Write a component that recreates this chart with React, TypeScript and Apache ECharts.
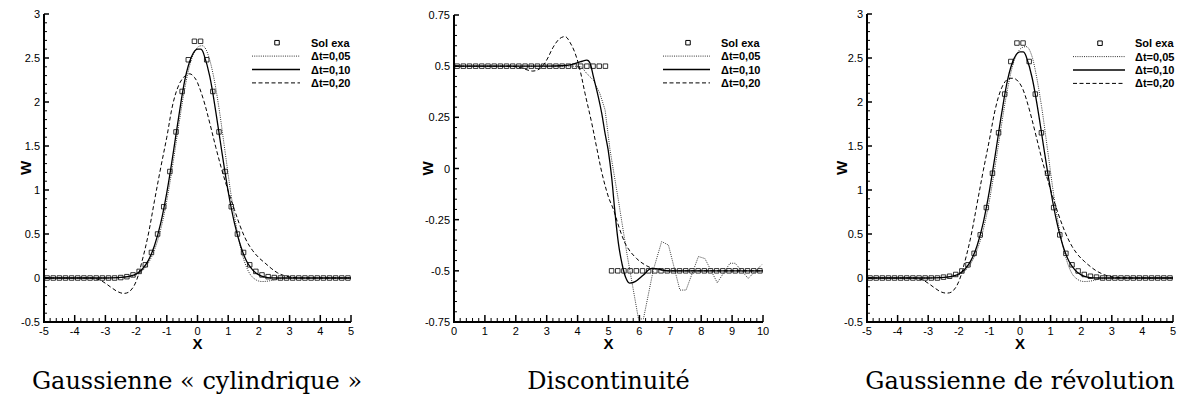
import React, { useEffect, useRef } from "react";
import * as echarts from "echarts";

// ---------- DATA ----------
const legendNames = ["Sol exa", "Δt=0,05", "Δt=0,10", "Δt=0,20"];
const captions = ["Gaussienne « cylindrique »", "Discontinuité", "Gaussienne de révolution"];

const gaussX = [-4.9, -4.7, -4.5, -4.3, -4.1, -3.9, -3.7, -3.5, -3.3, -3.1, -2.9, -2.7, -2.5, -2.3, -2.1, -1.9, -1.7, -1.5, -1.3, -1.1, -0.9, -0.7, -0.5, -0.3, -0.1,
  0.1, 0.3, 0.5, 0.7, 0.9, 1.1, 1.3, 1.5, 1.7, 1.9, 2.1, 2.3, 2.5, 2.7, 2.9, 3.1, 3.3, 3.5, 3.7, 3.9, 4.1, 4.3, 4.5, 4.7, 4.9];
const discX = [0.1, 0.3, 0.5, 0.7, 0.9, 1.1, 1.3, 1.5, 1.7, 1.9, 2.1, 2.3, 2.5, 2.7, 2.9, 3.1, 3.3, 3.5, 3.7, 3.9, 4.1, 4.3, 4.5, 4.7, 4.9,
  5.1, 5.3, 5.5, 5.7, 5.9, 6.1, 6.3, 6.5, 6.7, 6.9, 7.1, 7.3, 7.5, 7.7, 7.9, 8.1, 8.3, 8.5, 8.7, 8.9, 9.1, 9.3, 9.5, 9.7, 9.9];

const cylExact = [0, 0, 0, 0, 0, 0, 0, 0, 0, 0, 0, 0, 0.005, 0.015, 0.035, 0.075, 0.15, 0.29, 0.5, 0.81, 1.21, 1.66, 2.12, 2.48, 2.69,
  2.69, 2.48, 2.12, 1.66, 1.21, 0.81, 0.5, 0.29, 0.15, 0.075, 0.035, 0.015, 0.005, 0, 0, 0, 0, 0, 0, 0, 0, 0, 0, 0, 0];
const discExact = [0.5, 0.5, 0.5, 0.5, 0.5, 0.5, 0.5, 0.5, 0.5, 0.5, 0.5, 0.5, 0.5, 0.5, 0.5, 0.5, 0.5, 0.5, 0.5, 0.5, 0.5, 0.5, 0.5, 0.5, 0.5,
  -0.5, -0.5, -0.5, -0.5, -0.5, -0.5, -0.5, -0.5, -0.5, -0.5, -0.5, -0.5, -0.5, -0.5, -0.5, -0.5, -0.5, -0.5, -0.5, -0.5, -0.5, -0.5, -0.5, -0.5, -0.5];
const revExact = [0, 0, 0, 0, 0, 0, 0, 0, 0, 0, 0, 0, 0.01, 0.02, 0.04, 0.08, 0.15, 0.28, 0.49, 0.8, 1.19, 1.65, 2.09, 2.46, 2.67,
  2.67, 2.46, 2.09, 1.65, 1.19, 0.8, 0.49, 0.28, 0.15, 0.08, 0.04, 0.02, 0.01, 0, 0, 0, 0, 0, 0, 0, 0, 0, 0, 0, 0];

const cylDt005 = [[-5, 0], [-4, 0], [-3, 0], [-2.6, 0.004], [-2.2, 0.015], [-2, 0.035], [-1.8, 0.08], [-1.6, 0.17], [-1.4, 0.32], [-1.2, 0.55], [-1, 0.88], [-0.8, 1.3], [-0.6, 1.76], [-0.4, 2.18], [-0.2, 2.48], [0, 2.62], [0.15, 2.64], [0.3, 2.58], [0.5, 2.33], [0.7, 1.93], [0.9, 1.43], [1.1, 0.93], [1.3, 0.52], [1.5, 0.22], [1.7, 0.05], [1.9, -0.02], [2.1, -0.04], [2.3, -0.035], [2.5, -0.02], [2.7, -0.008], [3, 0], [4, 0], [5, 0]];
const cylDt010 = [[-5, 0], [-4, 0], [-3.2, 0], [-2.8, 0.002], [-2.4, 0.01], [-2.2, 0.02], [-2, 0.045], [-1.8, 0.1], [-1.6, 0.2], [-1.4, 0.37], [-1.2, 0.62], [-1, 0.97], [-0.8, 1.4], [-0.6, 1.86], [-0.4, 2.27], [-0.2, 2.51], [0, 2.6], [0.1, 2.6], [0.2, 2.55], [0.4, 2.29], [0.6, 1.88], [0.8, 1.42], [1, 0.98], [1.2, 0.63], [1.4, 0.37], [1.6, 0.19], [1.8, 0.09], [2, 0.035], [2.2, 0.01], [2.4, 0.002], [2.8, 0], [4, 0], [5, 0]];
const cylDt020 = [[-5, 0], [-4, 0], [-3.5, 0], [-3.2, -0.02], [-3, -0.06], [-2.8, -0.11], [-2.6, -0.155], [-2.4, -0.175], [-2.2, -0.15], [-2, -0.04], [-1.8, 0.2], [-1.6, 0.5], [-1.4, 0.88], [-1.2, 1.25], [-1, 1.6], [-0.8, 1.98], [-0.6, 2.2], [-0.4, 2.3], [-0.25, 2.32], [-0.1, 2.28], [0, 2.22], [0.2, 2.02], [0.4, 1.76], [0.6, 1.48], [0.8, 1.22], [1, 0.99], [1.2, 0.78], [1.4, 0.58], [1.6, 0.42], [1.8, 0.31], [2, 0.23], [2.2, 0.17], [2.4, 0.11], [2.6, 0.06], [2.8, 0.03], [3, 0.012], [3.4, 0], [4, 0], [5, 0]];

const discDt005 = [[0, 0.5], [2, 0.5], [3.9, 0.5], [4.13, 0.497], [4.29, 0.465], [4.51, 0.432], [4.72, 0.367], [4.89, 0.286], [5.05, 0.09], [5.32, -0.155], [5.6, -0.42], [5.97, -0.735], [6.13, -0.735], [6.45, -0.496], [6.72, -0.357], [6.94, -0.374], [7.31, -0.594], [7.51, -0.594], [7.91, -0.43], [8.12, -0.44], [8.52, -0.558], [8.93, -0.463], [9.1, -0.463], [9.52, -0.537], [9.96, -0.47]];
const discDt010 = [[0, 0.5], [1, 0.5], [2, 0.5], [3, 0.5], [3.5, 0.502], [3.8, 0.508], [4.1, 0.522], [4.3, 0.53], [4.4, 0.515], [4.51, 0.45], [4.67, 0.35], [4.78, 0.27], [4.89, 0.17], [4.99, 0.09], [5.1, -0.04], [5.2, -0.2], [5.32, -0.365], [5.43, -0.46], [5.55, -0.53], [5.68, -0.56], [5.86, -0.553], [6.13, -0.52], [6.4, -0.488], [6.6, -0.49], [6.9, -0.5], [7.5, -0.5], [8.5, -0.5], [10, -0.5]];
const discDt020 = [[0, 0.5], [1, 0.5], [1.8, 0.5], [2.1, 0.495], [2.3, 0.485], [2.55, 0.476], [2.8, 0.49], [3, 0.53], [3.2, 0.59], [3.4, 0.632], [3.59, 0.645], [3.75, 0.617], [3.92, 0.563], [4.08, 0.48], [4.24, 0.367], [4.46, 0.22], [4.62, 0.1], [4.8, -0.03], [5, -0.14], [5.16, -0.2], [5.37, -0.3], [5.59, -0.38], [5.91, -0.44], [6.24, -0.476], [6.5, -0.49], [7, -0.5], [8, -0.5], [10, -0.5]];

const revDt005 = [[-5, 0], [-4, 0], [-3, 0], [-2.6, 0.004], [-2.2, 0.015], [-2, 0.035], [-1.8, 0.08], [-1.6, 0.17], [-1.4, 0.32], [-1.2, 0.55], [-1, 0.88], [-0.8, 1.3], [-0.6, 1.75], [-0.4, 2.16], [-0.2, 2.46], [0, 2.6], [0.2, 2.63], [0.35, 2.56], [0.5, 2.36], [0.7, 1.96], [0.9, 1.46], [1.1, 0.95], [1.3, 0.53], [1.5, 0.23], [1.7, 0.05], [1.9, -0.02], [2.1, -0.04], [2.3, -0.035], [2.5, -0.02], [2.7, -0.008], [3, 0], [4, 0], [5, 0]];
const revDt010 = [[-5, 0], [-4, 0], [-3.2, 0], [-2.8, 0.002], [-2.4, 0.01], [-2.2, 0.02], [-2, 0.045], [-1.8, 0.1], [-1.6, 0.2], [-1.4, 0.37], [-1.2, 0.63], [-1, 0.99], [-0.8, 1.42], [-0.6, 1.87], [-0.4, 2.26], [-0.2, 2.49], [0, 2.57], [0.1, 2.57], [0.2, 2.52], [0.4, 2.27], [0.6, 1.88], [0.8, 1.43], [1, 1], [1.2, 0.64], [1.4, 0.37], [1.6, 0.19], [1.8, 0.09], [2, 0.035], [2.2, 0.01], [2.4, 0.002], [2.8, 0], [4, 0], [5, 0]];
const revDt020 = [[-5, 0], [-4, 0], [-3.5, 0], [-3.2, -0.02], [-3, -0.06], [-2.8, -0.11], [-2.6, -0.155], [-2.4, -0.172], [-2.2, -0.15], [-2, -0.04], [-1.8, 0.19], [-1.6, 0.48], [-1.4, 0.85], [-1.2, 1.22], [-1, 1.57], [-0.8, 1.93], [-0.6, 2.16], [-0.4, 2.26], [-0.22, 2.27], [-0.05, 2.23], [0.1, 2.14], [0.3, 1.92], [0.5, 1.65], [0.7, 1.37], [0.9, 1.12], [1.1, 0.89], [1.3, 0.68], [1.5, 0.5], [1.7, 0.36], [1.9, 0.26], [2.1, 0.19], [2.3, 0.13], [2.5, 0.08], [2.7, 0.045], [2.9, 0.02], [3.2, 0.005], [3.6, 0], [5, 0]];

// ---------- LAYOUT ----------
const panels = [
  { grid: { left: 44, top: 14, width: 307, height: 308 }, xMin: -5, xMax: 5, yMin: -0.5, yMax: 3, yInt: 0.5, wGap: 11,
    exactX: gaussX, exactY: cylExact, d05: cylDt005, d10: cylDt010, d20: cylDt020, smooth05: true,
    legend: { lineX: 252, lineW: 48, markX: 277, textX: 311, y: 42.7 }, capX: 197 },
  { grid: { left: 454, top: 15, width: 309, height: 307 }, xMin: 0, xMax: 10, yMin: -0.75, yMax: 0.75, yInt: 0.25, wGap: 19.5,
    exactX: discX, exactY: discExact, d05: discDt005, d10: discDt010, d20: discDt020, smooth05: false,
    legend: { lineX: 663, lineW: 47, markX: 688, textX: 721, y: 42.7 }, capX: 608.5 },
  { grid: { left: 867, top: 14, width: 306, height: 308 }, xMin: -5, xMax: 5, yMin: -0.5, yMax: 3, yInt: 0.5, wGap: 18,
    exactX: gaussX, exactY: revExact, d05: revDt005, d10: revDt010, d20: revDt020, smooth05: true,
    legend: { lineX: 1073, lineW: 52, markX: 1100, textX: 1135, y: 43.2 }, capX: 1020 },
];

const lineStyles = [
  { color: "#333", width: 1, type: [1, 1.2] },
  { color: "#000", width: 1.3, type: "solid" },
  { color: "#000", width: 1, type: [4, 2.5] },
];

export default function App() {
  const ref = useRef<HTMLDivElement>(null);
  useEffect(() => {
    const chart = echarts.init(ref.current!, undefined, { renderer: "svg" });
    const grid: any[] = [];
    const xAxis: any[] = [];
    const yAxis: any[] = [];
    const series: any[] = [];
    const graphic: any[] = [];
    panels.forEach((p, i) => {
      grid.push({ left: p.grid.left, top: p.grid.top, width: p.grid.width, height: p.grid.height });
      xAxis.push({
        type: "value", gridIndex: i, min: p.xMin, max: p.xMax, interval: 1,
        name: "X", nameLocation: "middle", nameGap: 14, nameMoveOverlap: false,
        nameTextStyle: { fontWeight: "bold", fontSize: 15, color: "#000" },
        axisLine: { show: false, onZero: false },
        axisTick: { show: false },
        minorTick: { show: false },
        splitLine: { show: false },
        axisLabel: { color: "#000", fontSize: 11, margin: 3 },
      });
      yAxis.push({
        type: "value", gridIndex: i, min: p.yMin, max: p.yMax, interval: p.yInt,
        name: "W", nameLocation: "middle", nameGap: p.wGap, nameMoveOverlap: false,
        nameTextStyle: { fontWeight: "bold", fontSize: 15, color: "#000" },
        axisLine: { show: false, onZero: false },
        axisTick: { show: false },
        minorTick: { show: false },
        splitLine: { show: false },
        axisLabel: { color: "#000", fontSize: 11, margin: 4 },
      });
      [p.d05, p.d10, p.d20].forEach((d, k) => {
        series.push({
          type: "line", xAxisIndex: i, yAxisIndex: i, data: d,
          symbol: "none", smooth: k === 0 && !p.smooth05 ? false : 0.35,
          lineStyle: { ...lineStyles[k] },
        });
      });
      series.push({
        type: "scatter", xAxisIndex: i, yAxisIndex: i,
        data: p.exactX.map((x, j) => [x, p.exactY[j]]),
        symbol: "rect", symbolSize: 4.5,
        itemStyle: { color: "#fff", borderColor: "#000", borderWidth: 1 },
      });
      // legend (drawn with graphic elements)
      const L = p.legend;
      const rowH = 13.4;
      legendNames.forEach((nm, r) => {
        const cy = L.y + r * rowH;
        if (r === 0) {
          graphic.push({ type: "rect", shape: { x: L.markX - 2.25, y: cy - 2.25, width: 4.5, height: 4.5 },
            style: { fill: "#fff", stroke: "#000", lineWidth: 1 } });
        } else {
          const ls = lineStyles[r - 1];
          const st: any = { stroke: ls.color, lineWidth: ls.width };
          if (ls.type !== "solid") st.lineDash = ls.type;
          graphic.push({ type: "line", shape: { x1: L.lineX, y1: cy, x2: L.lineX + L.lineW, y2: cy }, style: st });
        }
        graphic.push({ type: "text", x: L.textX, y: cy,
          style: { text: nm, font: "bold 11px sans-serif", fill: "#000", textAlign: "left", textVerticalAlign: "middle" } });
      });
      graphic.push({ type: "text", x: p.capX, y: 381,
        style: { text: captions[i], font: '24px "DejaVu Serif", serif', fill: "#000", textAlign: "center", textVerticalAlign: "middle" } });
    });
    chart.setOption({ animation: false, grid, xAxis, yAxis, series });

    // axis lines and ticks, placed through the chart's own scales
    panels.forEach((p, i) => {
      const px = (x: number, y: number) => chart.convertToPixel({ gridIndex: i }, [x, y]) as number[];
      const [x0, yb] = px(p.xMin, p.yMin);
      const [x1, yt] = px(p.xMax, p.yMax);
      graphic.push({ type: "line", z: 50, shape: { x1: x0 - 1, y1: yb, x2: x1, y2: yb }, style: { stroke: "#000", lineWidth: 2 } });
      graphic.push({ type: "line", z: 50, shape: { x1: x0, y1: yb + 1, x2: x0, y2: yt }, style: { stroke: "#000", lineWidth: 2 } });
      const xStep = 0.2;
      const nx = Math.round((p.xMax - p.xMin) / xStep);
      for (let k = 0; k <= nx; k++) {
        const v = p.xMin + k * xStep;
        const major = k % 5 === 0;
        const tx = px(v, p.yMin)[0];
        graphic.push({ type: "line", z: 50, shape: { x1: tx, y1: yb, x2: tx, y2: yb - (major ? 7 : 4) },
          style: { stroke: "#000", lineWidth: major ? 1.5 : 1 } });
      }
      const yStep = p.yInt / 5;
      const ny = Math.round((p.yMax - p.yMin) / yStep);
      for (let k = 0; k <= ny; k++) {
        const v = p.yMin + k * yStep;
        const major = k % 5 === 0;
        const ty = px(p.xMin, v)[1];
        graphic.push({ type: "line", z: 50, shape: { x1: x0, y1: ty, x2: x0 + (major ? 5 : 3), y2: ty },
          style: { stroke: "#000", lineWidth: major ? 1.5 : 1 } });
      }
    });
    chart.setOption({ graphic });
    return () => chart.dispose();
  }, []);
  return <div ref={ref} style={{ position: "fixed", left: 0, top: 0, width: 1181, height: 405, background: "#fff" }} />;
}
